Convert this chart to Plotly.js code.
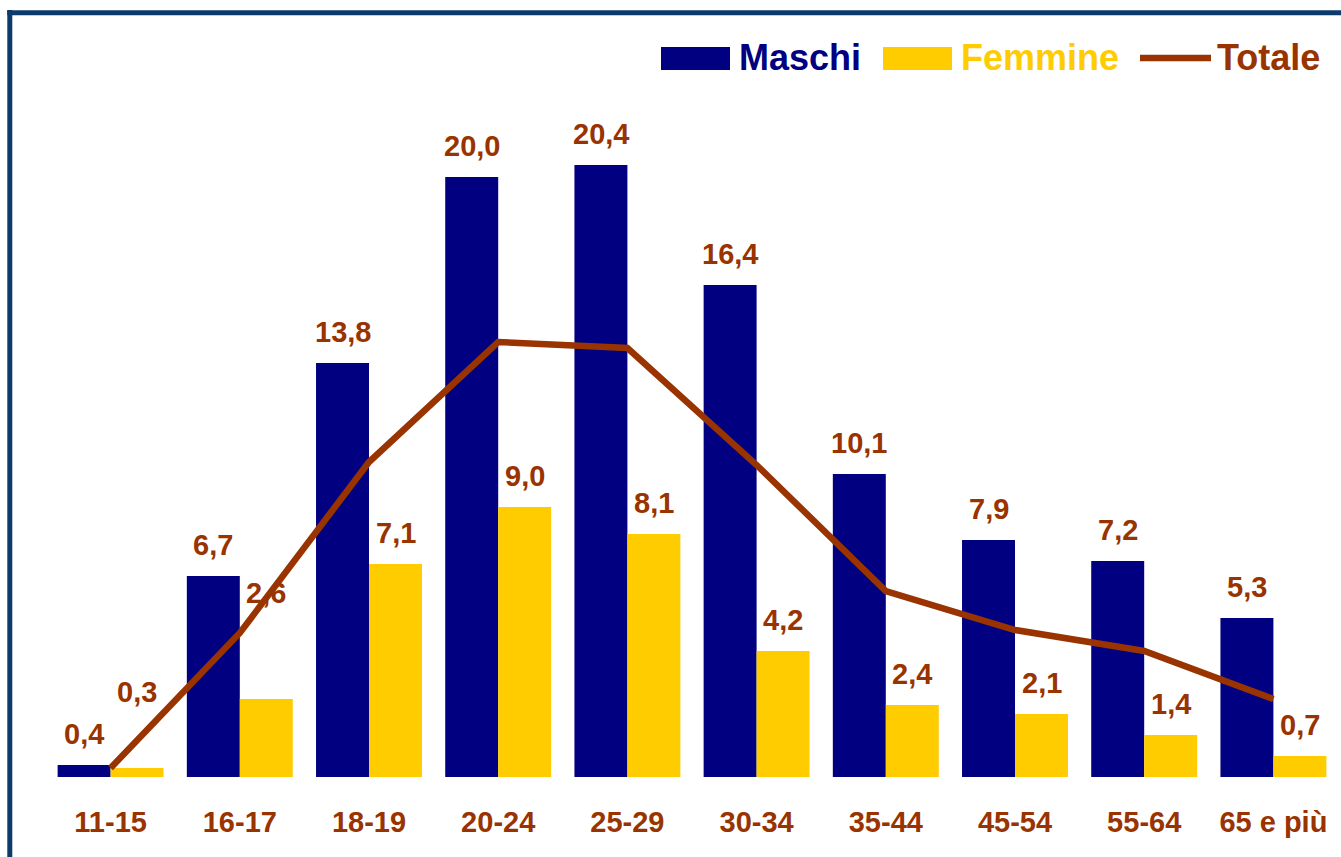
<!DOCTYPE html>
<html>
<head>
<meta charset="utf-8">
<script src="https://cdn.plot.ly/plotly-3.0.1.min.js"></script>
<style>
html,body{margin:0;padding:0;background:#fff;}
#chart{width:1341px;height:857px;}
</style>
</head>
<body>
<div id="chart"></div>
<script>
const categories = ["11-15","16-17","18-19","20-24","25-29","30-34","35-44","45-54","55-64","65 e più"];
const maschi  = [0.4, 6.7, 13.8, 20.0, 20.4, 16.4, 10.1, 7.9, 7.2, 5.3];
const femmine = [0.3, 2.6, 7.1, 9.0, 8.1, 4.2, 2.4, 2.1, 1.4, 0.7];
const totale  = [0.3, 4.8, 10.5, 14.5, 14.3, 10.4, 6.2, 4.9, 4.2, 2.6];
const seriesNames = ["Maschi","Femmine","Totale"];

const NAVY = "#000080", GOLD = "#FFCC00", BROWN = "#993300", FRAME = "#0b3a6b";
const FONT = "Liberation Sans, Arial, sans-serif";

// pixel geometry of the plot area
const W = 1341, H = 857;
const mL = 46, mR = 3, mT = 117, mB = 80;
const pw = W - mL - mR, ph = H - mT - mB;
const px = x => (x - mL) / pw;
const py = y => (H - mB - y) / ph;

const fmt = v => v.toFixed(1).replace('.', ',');

// extra upward shift (px) of some Femmine labels, moved clear of the line in the original
const femLabelRaise = {"11-15": 45, "16-17": 75};

const traces = [
  {type:'bar', name:seriesNames[0], x:categories, y:maschi, marker:{color:NAVY}, hoverinfo:'x+y', showlegend:false},
  {type:'bar', name:seriesNames[1], x:categories, y:femmine, marker:{color:GOLD}, hoverinfo:'x+y', showlegend:false},
  {type:'scatter', mode:'lines', name:seriesNames[2], x:categories, y:totale,
   line:{color:BROWN, width:6.5}, showlegend:false}
];

const annotations = [];
const labelFont = {family:FONT, size:29, color:BROWN, weight:'bold'};
categories.forEach((c,i)=>{
  annotations.push({x:c, y:maschi[i], xref:'x', yref:'y', text:fmt(maschi[i]), showarrow:false,
    xshift:-26.5, yshift:31, yanchor:'middle', xanchor:'center', font:labelFont});
  annotations.push({x:c, y:femmine[i], xref:'x', yref:'y', text:fmt(femmine[i]), showarrow:false,
    xshift:26.5, yshift:31 + (femLabelRaise[c] || 0), yanchor:'middle', xanchor:'center', font:labelFont});
});

// legend (drawn manually)
const legFont = (col) => ({family:FONT, size:36, color:col, weight:'bold'});
annotations.push({xref:'paper', yref:'paper', x:px(737), y:py(57), xanchor:'left', yanchor:'middle', text:seriesNames[0], showarrow:false, font:legFont(NAVY)});
annotations.push({xref:'paper', yref:'paper', x:px(959), y:py(57), xanchor:'left', yanchor:'middle', text:seriesNames[1], showarrow:false, font:legFont(GOLD)});
annotations.push({xref:'paper', yref:'paper', x:px(1215), y:py(57), xanchor:'left', yanchor:'middle', text:seriesNames[2], showarrow:false, font:legFont(BROWN)});

const shapes = [
  {type:'rect', xref:'paper', yref:'paper', x0:px(661), x1:px(730), y0:py(70), y1:py(47), fillcolor:NAVY, line:{width:0}},
  {type:'rect', xref:'paper', yref:'paper', x0:px(883), x1:px(952), y0:py(70), y1:py(47), fillcolor:GOLD, line:{width:0}},
  {type:'line', xref:'paper', yref:'paper', x0:px(1140), x1:px(1211), y0:py(58), y1:py(58), line:{color:BROWN, width:6.5}},
  // frame
  {type:'line', xref:'paper', yref:'paper', x0:px(9.8), x1:px(9.8), y0:py(10), y1:py(900), line:{color:FRAME, width:5}},
  {type:'line', xref:'paper', yref:'paper', x0:px(7.3), x1:px(1400), y0:py(12.7), y1:py(12.7), line:{color:FRAME, width:5}}
];

const layout = {
  width:W, height:H,
  margin:{l:mL, r:mR, t:mT, b:mB},
  paper_bgcolor:'#fff', plot_bgcolor:'#fff',
  barmode:'group', bargap:0.18, bargroupgap:0,
  showlegend:false,
  xaxis:{type:'category', showgrid:false, zeroline:false, showline:false, ticks:'',
    tickfont:{family:FONT, size:29, color:BROWN, weight:'bold'}, ticklabelstandoff:25},
  yaxis:{range:[0,22], visible:false, showgrid:false, zeroline:false},
  annotations:annotations, shapes:shapes,
  font:{family:FONT}
};

Plotly.newPlot('chart', traces, layout, {displayModeBar:false, staticPlot:true});
</script>
</body>
</html>
